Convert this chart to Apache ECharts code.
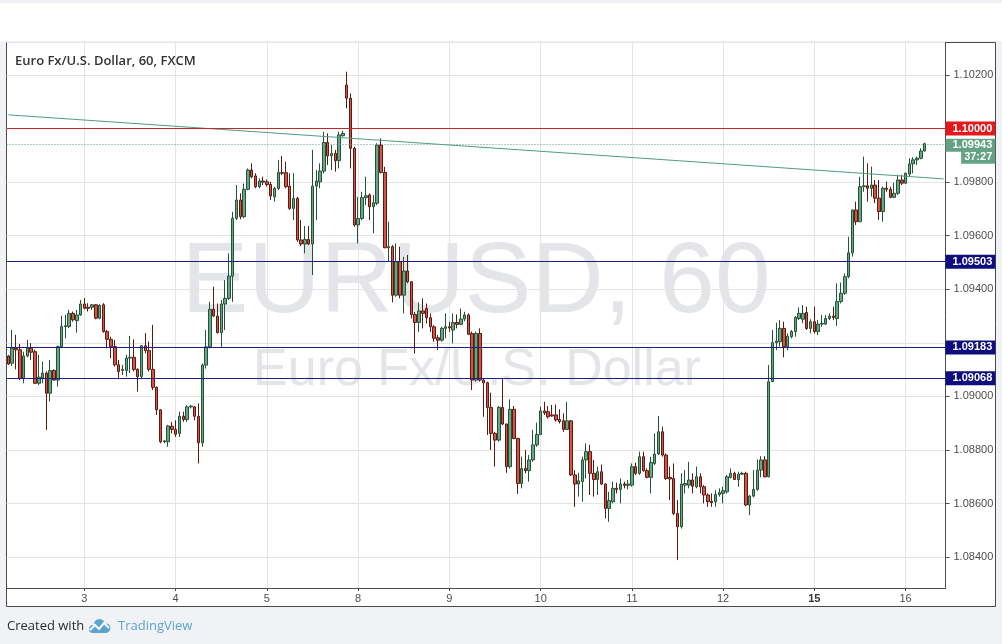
<!DOCTYPE html>
<html><head><meta charset="utf-8">
<script src="https://cdn.jsdelivr.net/npm/echarts@6/dist/echarts.min.js"></script>
<style>html,body{margin:0;padding:0;background:#f0f2f5;}#c{width:1002px;height:644px;}</style>
</head><body><div id="c"></div>
<script>
// ---------- data ----------
const opens = [
1.09151,1.09124,1.09180,1.09174,1.09068,1.09151,1.09180,1.09167,1.09049,1.09068,
1.09087,1.09012,1.09097,1.09061,1.09186,1.09261,1.09261,1.09310,1.09283,1.09304,
1.09345,1.09333,1.09333,1.09342,1.09292,1.09342,1.09242,1.09213,1.09186,1.09118,
1.09097,1.09097,1.09143,1.09146,1.09101,1.09074,1.09189,1.09171,1.09101,1.09034,
1.08950,1.08831,1.08831,1.08889,1.08877,1.08862,1.08926,1.08914,1.08961,1.08961,
1.08926,1.08827,1.09117,1.09185,1.09325,1.09300,1.09238,1.09345,1.09366,1.09449,
1.09665,1.09733,1.09671,1.09773,1.09845,1.09823,1.09783,1.09804,1.09801,1.09791,
1.09745,1.09776,1.09835,1.09835,1.09785,1.09702,1.09739,1.09584,1.09569,1.09586,
1.09569,1.09785,1.09801,1.09841,1.09948,1.09898,1.09907,1.09880,1.09973,1.10162,
1.10113,1.09926,1.09640,1.09664,1.09742,1.09752,1.09708,1.09721,1.09938,1.09836,
1.09555,1.09559,1.09378,1.09503,1.09378,1.09468,1.09428,1.09306,1.09276,1.09319,
1.09328,1.09294,1.09260,1.09219,1.09210,1.09254,1.09260,1.09248,1.09276,1.09269,
1.09289,1.09304,1.09235,1.09061,1.09235,1.09061,1.09051,1.08959,1.08862,1.08837,
1.08959,1.08897,1.08738,1.08952,1.08843,1.08675,1.08731,1.08723,1.08763,1.08819,
1.08858,1.08946,1.08943,1.08931,1.08931,1.08914,1.08909,1.08877,1.08909,1.08707,
1.08673,1.08682,1.08763,1.08794,1.08713,1.08690,1.08719,1.08673,1.08582,1.08607,
1.08657,1.08653,1.08673,1.08668,1.08669,1.08738,1.08713,1.08775,1.08723,1.08698,
1.08750,1.08785,1.08868,1.08781,1.08698,1.08694,1.08563,1.08514,1.08669,1.08669,
1.08688,1.08663,1.08700,1.08663,1.08632,1.08609,1.08607,1.08634,1.08638,1.08644,
1.08698,1.08713,1.08690,1.08710,1.08713,1.08595,1.08628,1.08653,1.08725,1.08763,
1.08700,1.09055,1.09201,1.09204,1.09254,1.09186,1.09223,1.09242,1.09291,1.09288,
1.09313,1.09254,1.09279,1.09242,1.09270,1.09270,1.09291,1.09300,1.09291,1.09354,
1.09385,1.09447,1.09536,1.09696,1.09652,1.09783,1.09786,1.09777,1.09789,1.09740,
1.09690,1.09777,1.09773,1.09743,1.09758,1.09808,1.09796,1.09830,1.09868,1.09883,
1.09889,1.09916];
const highs = [
1.09155,1.09248,1.09230,1.09196,1.09167,1.09211,1.09199,1.09174,1.09155,1.09130,
1.09093,1.09136,1.09101,1.09189,1.09301,1.09305,1.09323,1.09317,1.09323,1.09360,
1.09367,1.09348,1.09345,1.09345,1.09344,1.09348,1.09248,1.09223,1.09211,1.09136,
1.09118,1.09155,1.09226,1.09213,1.09105,1.09192,1.09236,1.09205,1.09267,1.09037,
1.08952,1.08838,1.08894,1.08905,1.08911,1.08943,1.08943,1.08967,1.08967,1.08964,
1.08974,1.09123,1.09248,1.09353,1.09409,1.09347,1.09360,1.09434,1.09534,1.09689,
1.09789,1.09758,1.09795,1.09851,1.09870,1.09833,1.09814,1.09820,1.09810,1.09801,
1.09783,1.09882,1.09897,1.09876,1.09833,1.09833,1.09745,1.09658,1.09636,1.09636,
1.09920,1.09845,1.09870,1.09988,1.09982,1.09938,1.09920,1.09988,1.09991,1.10212,
1.10131,1.09932,1.09745,1.09764,1.09820,1.09758,1.09752,1.09945,1.09963,1.09857,
1.09652,1.09565,1.09571,1.09559,1.09521,1.09528,1.09430,1.09316,1.09351,1.09366,
1.09347,1.09310,1.09266,1.09229,1.09260,1.09310,1.09279,1.09310,1.09306,1.09328,
1.09316,1.09310,1.09242,1.09242,1.09254,1.09067,1.09055,1.09014,1.08868,1.08964,
1.09067,1.08899,1.08989,1.08964,1.08846,1.08775,1.08800,1.08781,1.08875,1.08902,
1.08962,1.08980,1.08964,1.08968,1.08970,1.08952,1.08937,1.08980,1.08912,1.08725,
1.08715,1.08775,1.08825,1.08819,1.08763,1.08738,1.08746,1.08675,1.08644,1.08682,
1.08678,1.08694,1.08682,1.08688,1.08750,1.08753,1.08794,1.08794,1.08731,1.08775,
1.08862,1.08927,1.08887,1.08787,1.08738,1.08750,1.08613,1.08713,1.08725,1.08756,
1.08713,1.08738,1.08713,1.08669,1.08638,1.08638,1.08650,1.08657,1.08663,1.08707,
1.08731,1.08719,1.08719,1.08719,1.08719,1.08632,1.08725,1.08765,1.08777,1.08777,
1.09117,1.09248,1.09275,1.09285,1.09279,1.09235,1.09248,1.09300,1.09332,1.09341,
1.09335,1.09288,1.09335,1.09285,1.09304,1.09304,1.09310,1.09335,1.09422,1.09425,
1.09459,1.09596,1.09698,1.09727,1.09820,1.09895,1.09870,1.09858,1.09808,1.09808,
1.09783,1.09802,1.09783,1.09798,1.09827,1.09827,1.09835,1.09889,1.09893,1.09895,
1.09926,1.09947];
const lows = [
1.09118,1.09114,1.09101,1.09061,1.09049,1.09146,1.09136,1.09047,1.09043,1.09049,
1.08875,1.08981,1.09059,1.09037,1.09180,1.09217,1.09255,1.09279,1.09238,1.09301,
1.09325,1.09317,1.09323,1.09288,1.09288,1.09238,1.09180,1.09143,1.09111,1.09064,
1.09080,1.09074,1.09087,1.09093,1.09018,1.09068,1.09161,1.09093,1.09024,1.08931,
1.08825,1.08825,1.08812,1.08862,1.08849,1.08849,1.08905,1.08905,1.08955,1.08911,
1.08750,1.08812,1.09104,1.09179,1.09297,1.09235,1.09185,1.09248,1.09360,1.09353,
1.09658,1.09661,1.09665,1.09770,1.09814,1.09777,1.09777,1.09789,1.09783,1.09733,
1.09727,1.09770,1.09826,1.09777,1.09696,1.09658,1.09577,1.09561,1.09534,1.09565,
1.09453,1.09658,1.09777,1.09832,1.09864,1.09845,1.09839,1.09851,1.09970,1.10075,
1.09851,1.09633,1.09571,1.09658,1.09714,1.09658,1.09609,1.09714,1.09832,1.09553,
1.09503,1.09351,1.09372,1.09366,1.09310,1.09422,1.09291,1.09160,1.09241,1.09254,
1.09272,1.09241,1.09204,1.09173,1.09204,1.09217,1.09241,1.09198,1.09254,1.09266,
1.09281,1.09229,1.09024,1.09055,1.09055,1.08924,1.08856,1.08800,1.08738,1.08831,
1.08893,1.08715,1.08731,1.08840,1.08636,1.08657,1.08713,1.08682,1.08756,1.08812,
1.08856,1.08931,1.08918,1.08924,1.08906,1.08899,1.08868,1.08875,1.08703,1.08588,
1.08626,1.08607,1.08694,1.08632,1.08626,1.08632,1.08669,1.08545,1.08532,1.08601,
1.08638,1.08601,1.08657,1.08653,1.08663,1.08707,1.08707,1.08719,1.08694,1.08638,
1.08744,1.08781,1.08775,1.08688,1.08613,1.08557,1.08389,1.08507,1.08638,1.08657,
1.08638,1.08657,1.08638,1.08601,1.08588,1.08588,1.08588,1.08626,1.08601,1.08638,
1.08694,1.08688,1.08663,1.08707,1.08591,1.08557,1.08623,1.08648,1.08698,1.08698,
1.08698,1.09055,1.09173,1.09186,1.09146,1.09173,1.09217,1.09223,1.09285,1.09273,
1.09248,1.09235,1.09235,1.09229,1.09260,1.09267,1.09285,1.09285,1.09263,1.09347,
1.09379,1.09441,1.09522,1.09640,1.09652,1.09764,1.09727,1.09746,1.09721,1.09659,
1.09652,1.09764,1.09740,1.09740,1.09752,1.09789,1.09793,1.09820,1.09833,1.09864,
1.09885,1.09914];
const closes = [
1.09121,1.09180,1.09174,1.09068,1.09151,1.09180,1.09165,1.09049,1.09072,1.09087,
1.09012,1.09097,1.09061,1.09186,1.09261,1.09264,1.09310,1.09286,1.09304,1.09345,
1.09329,1.09329,1.09342,1.09292,1.09340,1.09242,1.09213,1.09186,1.09118,1.09093,
1.09101,1.09143,1.09146,1.09101,1.09074,1.09189,1.09171,1.09101,1.09034,1.08950,
1.08831,1.08834,1.08890,1.08877,1.08859,1.08926,1.08914,1.08961,1.08964,1.08926,
1.08827,1.09117,1.09185,1.09325,1.09300,1.09238,1.09345,1.09366,1.09449,1.09665,
1.09733,1.09671,1.09773,1.09845,1.09820,1.09783,1.09804,1.09800,1.09791,1.09748,
1.09776,1.09836,1.09833,1.09783,1.09702,1.09739,1.09584,1.09569,1.09586,1.09569,
1.09785,1.09804,1.09841,1.09948,1.09898,1.09907,1.09880,1.09976,1.09982,1.10113,
1.09926,1.09640,1.09664,1.09742,1.09749,1.09708,1.09723,1.09938,1.09836,1.09555,
1.09559,1.09378,1.09503,1.09378,1.09468,1.09428,1.09306,1.09276,1.09319,1.09310,
1.09294,1.09260,1.09217,1.09210,1.09254,1.09260,1.09256,1.09276,1.09269,1.09289,
1.09304,1.09232,1.09061,1.09235,1.09061,1.09051,1.08959,1.08862,1.08837,1.08959,
1.08897,1.08738,1.08952,1.08843,1.08675,1.08731,1.08723,1.08763,1.08819,1.08858,
1.08946,1.08939,1.08924,1.08927,1.08912,1.08906,1.08877,1.08909,1.08707,1.08673,
1.08685,1.08763,1.08794,1.08713,1.08690,1.08719,1.08673,1.08582,1.08611,1.08657,
1.08653,1.08673,1.08668,1.08673,1.08738,1.08713,1.08775,1.08723,1.08698,1.08753,
1.08785,1.08868,1.08781,1.08694,1.08692,1.08563,1.08514,1.08673,1.08675,1.08688,
1.08665,1.08700,1.08663,1.08632,1.08607,1.08604,1.08634,1.08641,1.08648,1.08700,
1.08713,1.08690,1.08710,1.08713,1.08595,1.08628,1.08653,1.08725,1.08763,1.08700,
1.09055,1.09201,1.09207,1.09254,1.09186,1.09225,1.09242,1.09295,1.09310,1.09310,
1.09254,1.09279,1.09242,1.09270,1.09273,1.09291,1.09300,1.09295,1.09354,1.09385,
1.09447,1.09536,1.09696,1.09652,1.09783,1.09786,1.09777,1.09789,1.09740,1.09690,
1.09777,1.09773,1.09743,1.09758,1.09808,1.09796,1.09833,1.09868,1.09883,1.09889,
1.09916,1.09943];

const days = ['2','3','4','5','8','9','10','11','12','15','16'];
const boldDays = ['15'];
const firstHour = 4;          // first bar: day 2, 04:00
const slotCount = 247;        // hourly slots shown on the time axis
const redLevel = 1.10000;
const blueLevels = [1.09503, 1.09183, 1.09068];
const trendStart = 1.10051;   // trend line value at the first slot
const trendEnd = 1.09812;     // trend line value at the last slot
const countdown = '37:27';
const yMin = 1.08285, yMax = 1.10321;
const yStep = 0.002;
const titleText = 'Euro Fx/U.S. Dollar, 60, FXCM';
const watermarkBig = 'EURUSD, 60';
const watermarkSmall = 'Euro Fx/U.S. Dollar';

// ---------- build ----------
const categories = [];
days.forEach((d, di) => {
  for (let h = 0; h < 24; h++) {
    if (di === 0 && h < firstHour) continue;
    categories.push(d + ' ' + String(h).padStart(2, '0') + ':00');
  }
});
categories.length = slotCount;
const candles = opens.map((o, i) => [o, closes[i], lows[i], highs[i]]);
const lastClose = closes[closes.length - 1];
const isDayStart = (idx, val) => typeof val === 'string' && val.endsWith(' 00:00');
// axis labels that sit under a price tag are hidden (as the tag covers them)
const taggedValues = [redLevel, ...blueLevels, lastClose];
const hiddenUnderTag = v => taggedValues.some(t => Math.abs(t - v) < yStep * 0.2);

const FONT = '"Liberation Sans", Arial, sans-serif';
const tag = (bg) => ({
  show: true, position: 'end', distance: 0,
  formatter: p => p.value.toFixed(5),
  backgroundColor: bg, color: '#fff', fontWeight: 'bold', fontSize: 11, fontFamily: FONT,
  lineHeight: 12, padding: [1, 3, 1, 7]
});

const markData = [
  { yAxis: redLevel, lineStyle: { color: '#c0282b', width: 1, type: 'solid' }, label: tag('#e3191c') },
  ...blueLevels.map(v => ({ yAxis: v, lineStyle: { color: '#1d1d86', width: 1, type: 'solid' }, label: tag('#0e0e80') })),
  { yAxis: lastClose, lineStyle: { color: '#5f987c', width: 1, type: [1, 2] },
    label: {
      show: true, position: 'end', distance: 0,
      formatter: p => '{e| }\n{a|' + p.value.toFixed(5) + '}\n{b|' + countdown + '}',
      rich: {
        e: { height: 15, lineHeight: 15, fontSize: 11 },
        a: { backgroundColor: '#64a283', color: '#fff', fontWeight: 'bold', fontSize: 11, fontFamily: FONT, lineHeight: 12, padding: [1, 3, 1, 7] },
        b: { backgroundColor: '#64a283', color: '#fff', fontWeight: 'bold', fontSize: 11, fontFamily: FONT, lineHeight: 12, padding: [1, 3, 1, 3], align: 'right' }
      }
    } }
];

const chart = echarts.init(document.getElementById('c'), null, { renderer: 'canvas' });
chart.setOption({
  animation: false,
  backgroundColor: '#f0f2f5',
  grid: { left: 6.5, right: 56.5, top: 42.5, bottom: 56, containLabel: false },
  xAxis: {
    type: 'category', data: categories, boundaryGap: true,
    axisLine: { lineStyle: { color: '#4d4d4d', width: 1 } },
    axisTick: { show: true, alignWithLabel: true, length: 3, interval: isDayStart, lineStyle: { color: '#4d4d4d' } },
    axisLabel: {
      interval: isDayStart, margin: 5, color: '#4d4d4d', fontSize: 11, fontFamily: FONT,
      formatter: v => { const d = v.split(' ')[0]; return boldDays.includes(d) ? '{b|' + d + '}' : d; },
      rich: { b: { fontWeight: 'bold', fontSize: 11, color: '#333', fontFamily: FONT } }
    },
    splitLine: { show: true, interval: isDayStart, alignWithLabel: true, lineStyle: { color: '#e4e4e4', width: 1 } }
  },
  yAxis: {
    type: 'value', position: 'right', min: yMin, max: yMax, scale: true,
    splitNumber: 10, minInterval: yStep, maxInterval: yStep,
    axisLine: { show: true, lineStyle: { color: '#4d4d4d', width: 1 } },
    axisTick: { show: true, length: 4, lineStyle: { color: '#4d4d4d' } },
    axisLabel: { showMinLabel: false, showMaxLabel: false, margin: 8, color: '#4d4d4d', fontSize: 11, fontFamily: FONT,
      formatter: v => hiddenUnderTag(v) ? '' : v.toFixed(5) },
    splitLine: { show: true, lineStyle: { color: '#e4e4e4', width: 1 } }
  },
  graphic: [
    { type: 'rect', z: -110, silent: true, shape: { x: 0, y: 3, width: 1002, height: 38 },
      style: { fill: '#ffffff' } },
    { type: 'rect', z: -100, silent: true, shape: { x: 6.5, y: 42.5, width: 989, height: 564 },
      style: { fill: '#ffffff', stroke: '#4a4a4a', lineWidth: 1 } },
    { type: 'text', z: -90, silent: true, x: 476, y: 284,
      style: { text: watermarkBig, font: '100px "Liberation Sans", Arial, sans-serif', fill: '#e3e5e8', textAlign: 'center', textVerticalAlign: 'middle' } },
    { type: 'text', z: -90, silent: true, x: 477, y: 371,
      style: { text: watermarkSmall, font: '52px "Liberation Sans", Arial, sans-serif', fill: '#e3e5e8', textAlign: 'center', textVerticalAlign: 'middle' } },
    { type: 'text', z: 50, silent: true, x: 15, y: 61,
      style: { text: titleText, font: '600 13px "Open Sans", sans-serif', fill: '#333333', textAlign: 'left', textVerticalAlign: 'middle' } },
    { type: 'text', z: 50, silent: true, x: 7, y: 626,
      style: { text: 'Created with', font: '13px "Open Sans", sans-serif', fill: '#2b2b2b', textAlign: 'left', textVerticalAlign: 'middle' } },
    { type: 'circle', z: 50, silent: true, shape: { cx: 93, cy: 629, r: 4 }, style: { fill: '#5ba4cf' } },
    { type: 'circle', z: 50, silent: true, shape: { cx: 99.5, cy: 624.5, r: 5.5 }, style: { fill: '#5ba4cf' } },
    { type: 'circle', z: 50, silent: true, shape: { cx: 106, cy: 628, r: 4.5 }, style: { fill: '#5ba4cf' } },
    { type: 'rect', z: 50, silent: true, shape: { x: 91, y: 627, width: 17, height: 6, r: 2 }, style: { fill: '#5ba4cf' } },
    { type: 'polyline', z: 51, silent: true,
      shape: { points: [[90, 630], [95, 625], [99, 629], [104, 623], [109, 628]] },
      style: { stroke: '#ffffff', lineWidth: 2, fill: null } },
    { type: 'text', z: 50, silent: true, x: 118, y: 626,
      style: { text: 'TradingView', font: '13px "Open Sans", sans-serif', fill: '#5ba4cf', textAlign: 'left', textVerticalAlign: 'middle' } }
  ],
  series: [
    {
      type: 'candlestick', data: candles, barWidth: 3, z: 2,
      itemStyle: { color: '#6ba583', color0: '#d75442', borderColor: '#225437', borderColor0: '#5b1a13', borderWidth: 1 },
      markLine: { symbol: ['none', 'none'], silent: true, animation: false, precision: 5, data: markData }
    },
    {
      type: 'line', z: 4, silent: true, symbol: 'none',
      data: [[categories[0], trendStart], [categories[slotCount - 1], trendEnd]],
      lineStyle: { color: '#4f9d86', width: 1 }
    }
  ]
});
</script>
</body></html>
